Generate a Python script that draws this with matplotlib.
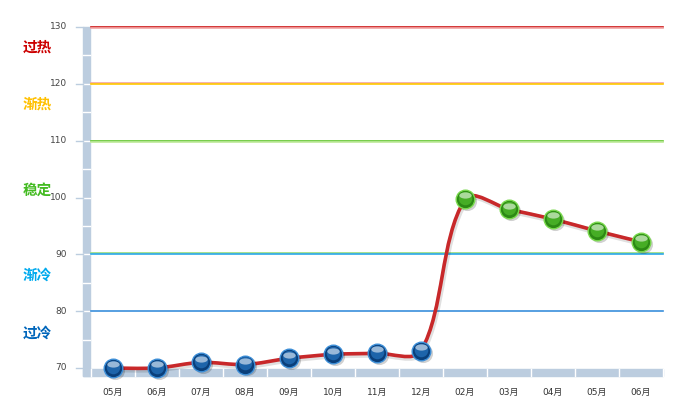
import matplotlib
matplotlib.use("Agg")
import matplotlib.pyplot as plt
import matplotlib.transforms as mtransforms
from matplotlib.path import Path
from matplotlib.patches import PathPatch, Rectangle
import numpy as np

plt.rcParams["font.family"] = ["DejaVu Sans", "Noto Sans CJK SC"]

# data
months = ["05月", "06月", "07月", "08月", "09月", "10月", "11月", "12月",
          "02月", "03月", "04月", "05月", "06月"]
values = [70.0, 70.0, 71.0, 70.6, 71.7, 72.4, 72.6, 73.0,
          99.7, 97.9, 96.2, 94.1, 92.2]
y_ticks = [70, 80, 90, 100, 110, 120, 130]

# zone labels
zone_names = ["过热", "渐热", "稳定", "渐冷", "过冷"]
zone_y = [126.5, 116.5, 101.3, 86.4, 76.3]
zone_colors = ["#cc0000", "#ffc000", "#44bb22", "#00aaee", "#0066bb"]

# threshold lines (value, [(offset, colour), ...])
level_values = [130, 120, 110, 90, 80]
level_styles = [
    [(0.0, "#cc1414"), (-0.2, "#f2a4a4")],
    [(0.2, "#f2a4a4"), (0.0, "#ffc800")],
    [(0.0, "#5fc42a"), (-0.2, "#bde99a")],
    [(0.2, "#9bdc7a"), (0.0, "#2ba8ea")],
    [(0.0, "#3a8fdc")],
]

W, H = 681, 417
fig = plt.figure(figsize=(W / 100, H / 100), dpi=100)
ax = fig.add_axes([91 / W, 1 - 368 / H, 572 / W, 341 / H])
ax.set_xlim(-0.5, len(values) - 0.5)
ax.set_ylim(70, 130)
for s in ax.spines.values():
    s.set_visible(False)
ax.set_xticks([])
ax.set_yticks([])

wall = "#bccddf"
tr_y = mtransforms.blended_transform_factory(ax.transAxes, ax.transData)
tr_x = mtransforms.blended_transform_factory(ax.transData, ax.transAxes)
px_x = 1 / 572
px_y = 1 / 341

# left wall
ax.add_patch(Rectangle((-8 * px_x, -8 * px_y), 7 * px_x, 1 + 8 * px_y,
                       transform=ax.transAxes, color=wall, clip_on=False, zorder=1))
for v in np.arange(75, 130, 5):
    ax.plot([-8 * px_x, -1 * px_x], [v, v], color="white", lw=1,
            transform=tr_y, clip_on=False, zorder=1.5)
# bottom wall
ax.add_patch(Rectangle((-8 * px_x, -8 * px_y), 1 + 8 * px_x, 7 * px_y,
                       transform=ax.transAxes, color=wall, clip_on=False, zorder=1))
for i in range(-1, len(values)):
    ax.plot([i + 0.5, i + 0.5], [-8 * px_y, -1 * px_y], color="white", lw=1,
            transform=tr_x, clip_on=False, zorder=1.5)

# y ticks and labels
for v in y_ticks:
    ax.plot([-15 * px_x, -8 * px_x], [v, v], color=wall, lw=1,
            transform=tr_y, clip_on=False)
    ax.text(-24 * px_x, v, str(v), transform=tr_y, ha="right", va="center",
            fontsize=6.5, color="#444444")

# x labels
for i, m in enumerate(months):
    ax.text(i, -24 * px_y, m, transform=tr_x, ha="center", va="center",
            fontsize=6.5, color="#333333")

# threshold lines
for v, styles in zip(level_values, level_styles):
    for off, c in styles:
        ax.plot([0, 1], [v + off, v + off], color=c, lw=1.2,
                transform=tr_y, clip_on=False, zorder=2)

# zone labels
for t, yv, c in zip(zone_names, zone_y, zone_colors):
    ax.text(-54 * px_x, yv, t, transform=tr_y, ha="center", va="center",
            fontsize=10.5, fontweight="bold", color=c,
            family=["Noto Sans CJK SC"])

# smooth line, control points built in pixel space
xs = np.arange(len(values), dtype=float)
ys = np.array(values)
P = ax.transData.transform(np.column_stack([xs, ys]))
t = 0.3
lc = P.copy()
rc = P.copy()
for i in range(1, len(P) - 1):
    d = P[i + 1] - P[i - 1]
    d = d / np.hypot(*d)
    lc[i] = P[i] - d * np.hypot(*(P[i] - P[i - 1])) * t
    rc[i] = P[i] + d * np.hypot(*(P[i + 1] - P[i])) * t
verts = [P[0]]
codes = [Path.MOVETO]
for i in range(1, len(P)):
    verts += [rc[i - 1], lc[i], P[i]]
    codes += [Path.CURVE4] * 3
path = Path(ax.transData.inverted().transform(np.array(verts)), codes)
shadow_off = mtransforms.ScaledTranslation(1 / 100, -1.5 / 100, fig.dpi_scale_trans)
ax.add_patch(PathPatch(path, fill=False, edgecolor="#000000", alpha=0.12, lw=4,
                       transform=ax.transData + shadow_off, clip_on=False, zorder=3))
ax.add_patch(PathPatch(path, fill=False, edgecolor="#c8282a", lw=2.6,
                       clip_on=False, zorder=4, capstyle="round", joinstyle="round"))

# spherical markers
blue_idx = [i for i, v in enumerate(values) if v < 90]
green_idx = [i for i, v in enumerate(values) if v >= 90]
ell = Path.unit_circle().transformed(mtransforms.Affine2D().scale(1, 0.5))
hl_off = mtransforms.ScaledTranslation(0, 3.8 / 100, fig.dpi_scale_trans)
mid_off = mtransforms.ScaledTranslation(0, 1.2 / 100, fig.dpi_scale_trans)
mshadow = mtransforms.ScaledTranslation(1.5 / 100, -1.8 / 100, fig.dpi_scale_trans)
for idx, dark, mid, edge in [(blue_idx, "#0a3f7a", "#1d64aa", "#3d8fd8"),
                             (green_idx, "#2c8a14", "#46ad25", "#7ad94e")]:
    px = xs[idx]
    py = ys[idx]
    ax.scatter(px, py, s=190, color="#000000", alpha=0.18, lw=0,
               transform=ax.transData + mshadow, clip_on=False, zorder=5)
    ax.scatter(px, py, s=180, color=dark, edgecolors=edge, linewidths=1.0,
               clip_on=False, zorder=6)
    ax.scatter(px, py, s=95, color=mid, lw=0, clip_on=False, zorder=7,
               transform=ax.transData + mid_off)
    ax.scatter(px, py, s=80, marker=ell, color="white", alpha=0.55, lw=0,
               transform=ax.transData + hl_off, clip_on=False, zorder=8)

fig.savefig("out.png", dpi=100)
